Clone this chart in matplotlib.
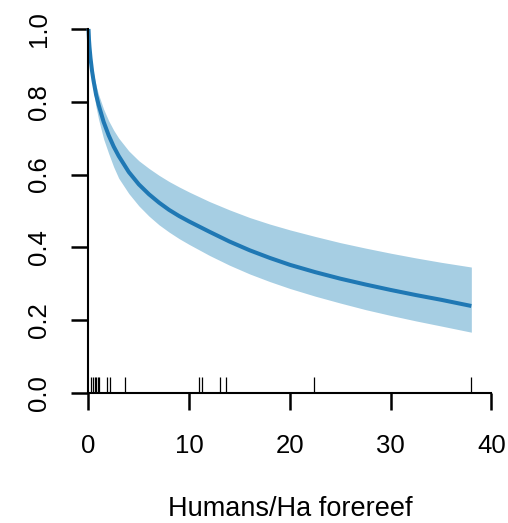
import matplotlib
matplotlib.use("Agg")
from matplotlib import pyplot as plt

plt.rcParams['font.family'] = ['Liberation Sans', 'DejaVu Sans']

# fitted mean and 95% band vs. human density
humans = [0, 0.05, 0.1, 0.2, 0.35, 0.5, 0.75, 1, 1.5, 2, 2.5, 3, 4, 5, 6, 7, 8, 9,
          10, 12, 14, 16, 18, 20, 22.5, 25, 27.5, 30, 32.5, 35, 38]
fit = [1.0, 0.97, 0.95, 0.92, 0.885, 0.858, 0.82, 0.792, 0.745, 0.708, 0.677,
       0.651, 0.607, 0.573, 0.546, 0.523, 0.503, 0.486, 0.471, 0.443, 0.416,
       0.392, 0.371, 0.352, 0.332, 0.314, 0.298, 0.283, 0.269, 0.256, 0.239]
upper = [1.0, 0.975, 0.958, 0.932, 0.902, 0.878, 0.845, 0.82, 0.78, 0.748,
         0.722, 0.70, 0.665, 0.638, 0.617, 0.598, 0.581, 0.566, 0.552, 0.526,
         0.503, 0.482, 0.464, 0.448, 0.43, 0.413, 0.398, 0.384, 0.371, 0.359,
         0.346]
lower = [1.0, 0.965, 0.94, 0.905, 0.866, 0.83, 0.785, 0.752, 0.698, 0.658,
         0.621, 0.59, 0.548, 0.514, 0.486, 0.462, 0.442, 0.424, 0.408, 0.378,
         0.351, 0.327, 0.306, 0.287, 0.266, 0.247, 0.229, 0.213, 0.198, 0.184,
         0.167]

# observed site densities (rug)
sites = [0.27, 0.43, 0.6, 0.77, 0.93, 1.09, 1.86, 2.16, 3.58, 10.98, 11.28,
         13.03, 13.6, 22.4, 38.0]

xticks = [0, 10, 20, 30, 40]
yticks = [0.0, 0.2, 0.4, 0.6, 0.8, 1.0]

fig = plt.figure(figsize=(5.08, 5.23), dpi=100)
ax = fig.add_axes([0.1742, 0.2486, 0.7933, 0.696])

ax.fill_between(humans, lower, upper, color='#a6cee3', lw=0, clip_on=False)
ax.plot(humans, fit, color='#1f78b4', lw=2.9, solid_capstyle='butt', clip_on=False)
ax.vlines(sites, 0, 0.044, color='black', lw=0.9)

ax.set_xlim(0, 40)
ax.set_ylim(0, 1)
ax.set_xticks(xticks)
ax.set_xticklabels([f'{v:g}' for v in xticks])
ax.set_yticks(yticks)
ax.set_yticklabels([f'{v:.1f}' for v in yticks], rotation=90, va='center')

for side in ['top', 'right']:
    ax.spines[side].set_visible(False)
for side in ['left', 'bottom']:
    ax.spines[side].set_linewidth(1.5)
    ax.spines[side].set_capstyle('projecting')

ax.tick_params(axis='both', direction='out', length=12.2, width=1.8,
               labelsize=18.5, color='black')
ax.tick_params(axis='x', pad=17)
ax.tick_params(axis='y', pad=15)

ax.set_xlabel('Humans/Ha forereef', fontsize=19.5)
ax.xaxis.set_label_coords(0.5, -0.3187)
ax.xaxis.label.set_va('center')

fig.savefig('out.png', dpi=100)
